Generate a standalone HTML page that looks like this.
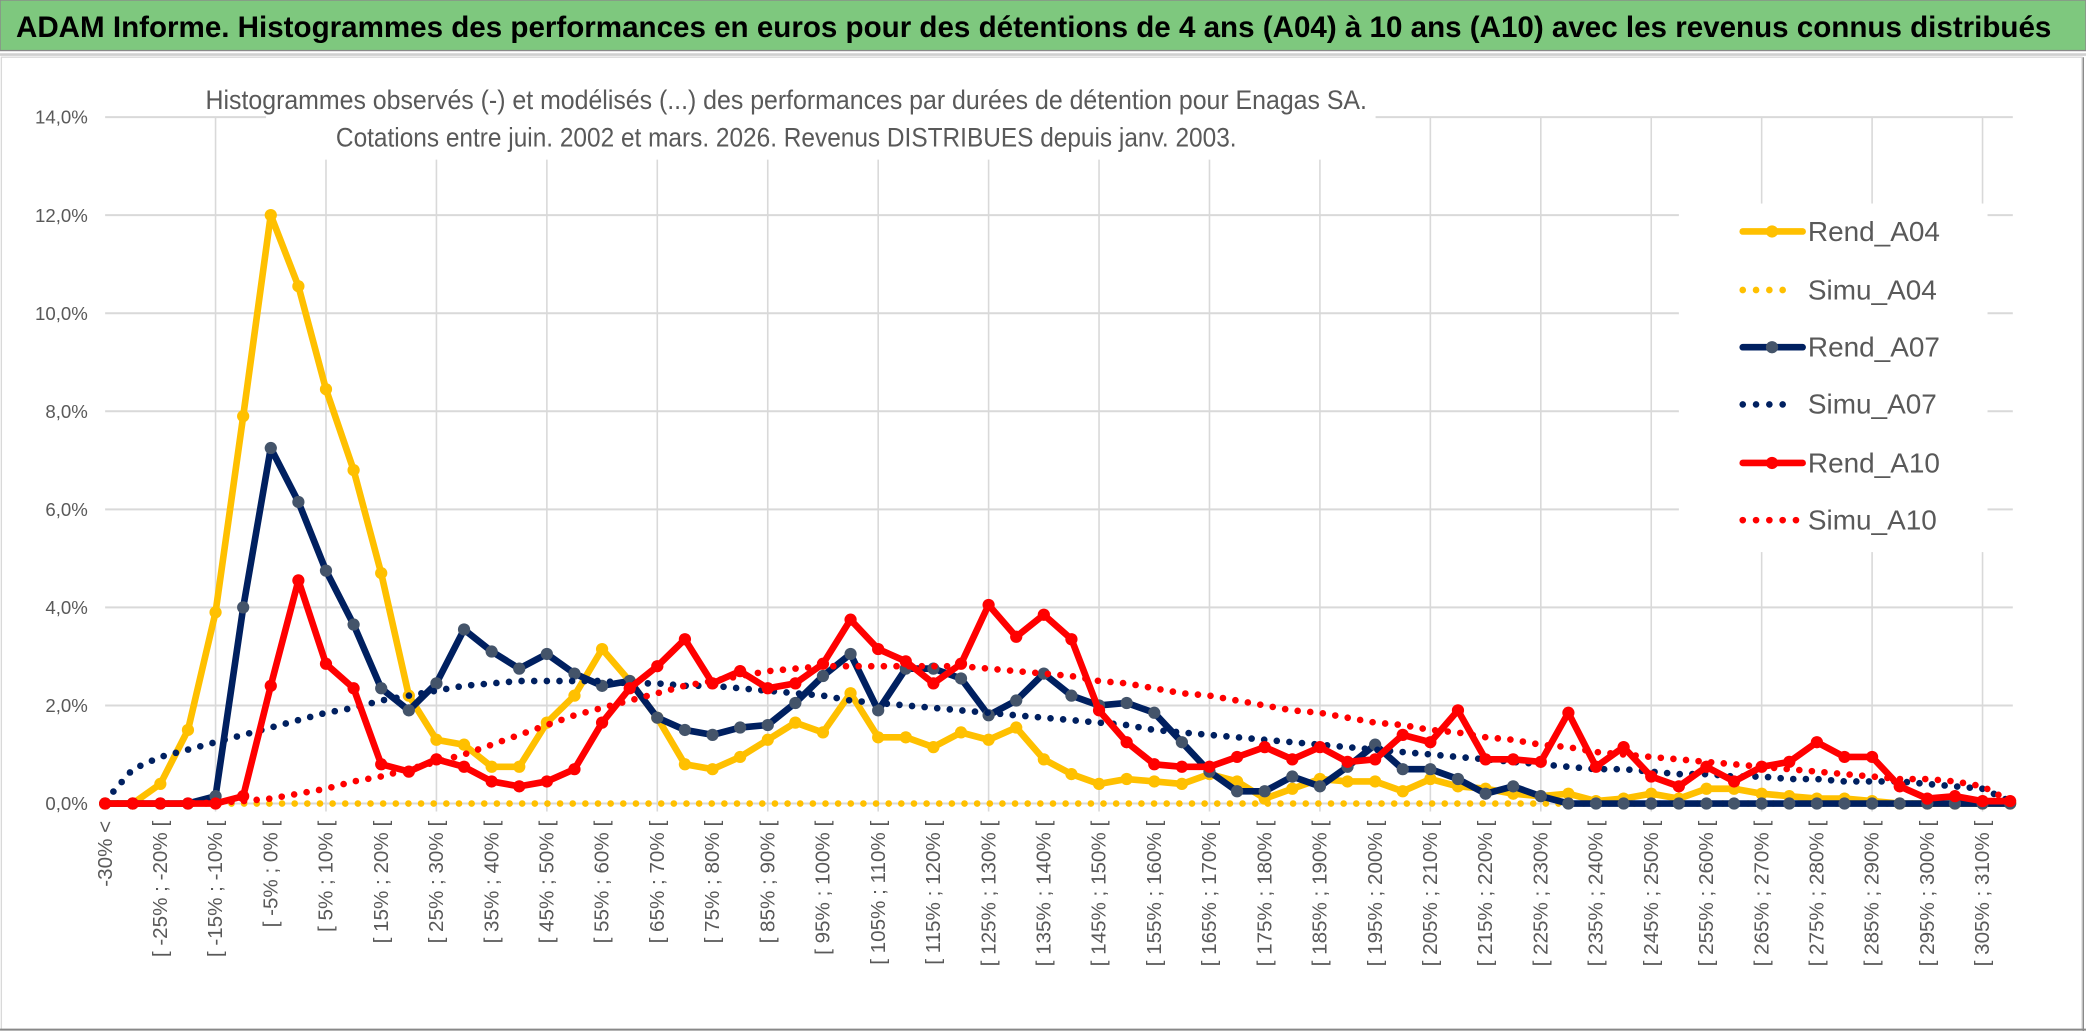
<!DOCTYPE html>
<html><head><meta charset="utf-8"><style>
html,body{margin:0;padding:0;background:#fff;}
svg{display:block;}
text{font-family:"Liberation Sans Narrow","Liberation Sans",sans-serif;}
</style></head><body>
<svg id="chart" width="2086" height="1031" viewBox="0 0 1568 775" xmlns="http://www.w3.org/2000/svg">
<rect x="0" y="0" width="1568" height="775" fill="#fff"/>
<rect x="0" y="0" width="1568" height="38" fill="#7ec87e" stroke="#8a8a8a" stroke-width="1"/>
<text x="12" y="28" font-size="22" font-weight="bold" fill="#000" textLength="1530" lengthAdjust="spacingAndGlyphs">ADAM Informe. Histogrammes des performances en euros pour des détentions de 4 ans (A04) à 10 ans (A10) avec les revenus connus distribués</text>
<line x1="0" y1="41" x2="1568" y2="41" stroke="#d0d0d0" stroke-width="2"/>
<rect x="1" y="43" width="1564" height="731" fill="none" stroke="#d9d9d9" stroke-width="1"/>
<line x1="0" y1="774" x2="1568" y2="774" stroke="#888" stroke-width="1.5"/>
<line x1="1566" y1="43" x2="1566" y2="775" stroke="#888" stroke-width="1"/>
<g id="grid"></g>
<rect x="200" y="50" width="834" height="70" fill="#fff"/>
<text x="591" y="82" font-size="20" fill="#595959" text-anchor="middle" textLength="873" lengthAdjust="spacingAndGlyphs">Histogrammes observés (-) et modélisés (...) des performances par durées de détention pour Enagas SA.</text>
<text x="591" y="110" font-size="20" fill="#595959" text-anchor="middle" textLength="677" lengthAdjust="spacingAndGlyphs">Cotations entre juin. 2002 et mars. 2026. Revenus DISTRIBUES depuis janv. 2003.</text>
<g id="yaxis"></g>
<g id="xaxis"></g>
<g id="series"></g>
<g id="legend"></g>
</svg>
<script>
const categories = (function(){ const c=["-30% <"]; for(let k=-30;k<310;k+=5){ c.push("[ "+k+"% ; "+(k+5)+"% ["); } c.push("> 310%"); return c; })();
const yTicks = [0,2,4,6,8,10,12,14];
const yTickLabels = ["0,0%","2,0%","4,0%","6,0%","8,0%","10,0%","12,0%","14,0%"];
const rendA04 = [0,0,0.4,1.5,3.9,7.9,12.0,10.55,8.45,6.8,4.7,2.2,1.3,1.2,0.75,0.75,1.65,2.2,3.15,2.5,1.75,0.8,0.7,0.95,1.3,1.65,1.45,2.25,1.35,1.35,1.15,1.45,1.3,1.55,0.9,0.6,0.4,0.5,0.45,0.4,0.6,0.45,0.1,0.3,0.5,0.45,0.45,0.25,0.5,0.35,0.3,0.2,0.15,0.2,0.05,0.1,0.2,0.1,0.3,0.3,0.2,0.15,0.1,0.1,0.05,0,0,0,0,0];
const simuA04 = [0,0,0,0,0,0,0,0,0,0,0,0,0,0,0,0,0,0,0,0,0,0,0,0,0,0,0,0,0,0,0,0,0,0,0,0,0,0,0,0,0,0,0,0,0,0,0,0,0,0,0,0,0,0,0,0,0,0,0,0,0,0,0,0,0,0,0,0,0,0];
const rendA07 = [0,0,0,0,0.15,4.0,7.25,6.15,4.75,3.65,2.35,1.9,2.45,3.55,3.1,2.75,3.05,2.65,2.4,2.5,1.75,1.5,1.4,1.55,1.6,2.05,2.6,3.05,1.9,2.75,2.75,2.55,1.8,2.1,2.65,2.2,2.0,2.05,1.85,1.25,0.65,0.25,0.25,0.55,0.35,0.75,1.2,0.7,0.7,0.5,0.2,0.35,0.15,0,0,0,0,0,0,0,0,0,0,0,0,0,0,0,0,0];
const simuA07 = [0.05,0.7,0.95,1.1,1.25,1.4,1.55,1.7,1.85,1.95,2.1,2.2,2.3,2.4,2.45,2.5,2.5,2.5,2.5,2.45,2.45,2.4,2.4,2.35,2.3,2.25,2.2,2.1,2.05,2.0,1.95,1.9,1.85,1.8,1.75,1.7,1.65,1.6,1.5,1.45,1.4,1.35,1.3,1.25,1.2,1.15,1.1,1.05,1.0,0.95,0.9,0.85,0.8,0.75,0.7,0.7,0.65,0.6,0.6,0.55,0.55,0.5,0.5,0.45,0.45,0.45,0.4,0.35,0.3,0.05];
const rendA10 = [0,0,0,0,0,0.15,2.4,4.55,2.85,2.35,0.8,0.65,0.9,0.75,0.45,0.35,0.45,0.7,1.65,2.35,2.8,3.35,2.45,2.7,2.35,2.45,2.85,3.75,3.15,2.9,2.45,2.85,4.05,3.4,3.85,3.35,1.9,1.25,0.8,0.75,0.75,0.95,1.15,0.9,1.15,0.85,0.9,1.4,1.25,1.9,0.9,0.9,0.85,1.85,0.75,1.15,0.55,0.35,0.75,0.45,0.75,0.85,1.25,0.95,0.95,0.35,0.1,0.15,0.05,0.05];
const simuA10 = [0,0,0,0,0.02,0.05,0.1,0.2,0.3,0.45,0.55,0.7,0.85,1.0,1.2,1.4,1.6,1.8,1.95,2.1,2.25,2.4,2.5,2.6,2.7,2.75,2.8,2.8,2.8,2.8,2.8,2.8,2.75,2.7,2.65,2.6,2.5,2.45,2.35,2.25,2.2,2.1,2.0,1.9,1.85,1.75,1.65,1.6,1.5,1.45,1.35,1.3,1.2,1.15,1.05,1.0,0.95,0.9,0.85,0.8,0.75,0.7,0.65,0.6,0.55,0.5,0.5,0.45,0.35,0.05];

const NS="http://www.w3.org/2000/svg";
const X0=79, X1=1511, Y0=604, Y14=88;
function xs(i){ return X0+(X1-X0)*i/(categories.length-1); }
function ys(v){ return Y0-(Y0-Y14)*v/14; }
function mk(tag,attrs,parent){ const e=document.createElementNS(NS,tag); for(const k in attrs) e.setAttribute(k,attrs[k]); parent.appendChild(e); return e; }

const grid=document.getElementById('grid');
yTicks.forEach(function(v){
  const l=mk('line',{x1:X0,y1:ys(v),x2:1513,y2:ys(v),stroke:'#d9d9d9','stroke-width':1.5},grid);
  
  
});
for(let i=4;i<categories.length;i+=4){
  const l=mk('line',{x1:xs(i),y1:88,x2:xs(i),y2:Y0+6,stroke:'#d9d9d9','stroke-width':1.2},grid);
  
  
}
const ya=document.getElementById('yaxis');
yTicks.forEach(function(v,k){
  const t=mk('text',{x:66,y:ys(v)+5,'font-size':14,fill:'#595959','text-anchor':'end'},ya);
  t.textContent=yTickLabels[k];
  
  
});
const xa=document.getElementById('xaxis');
for(let i=0;i<categories.length-1;i+=2){
  const x=xs(i)+5, y=617;
  const t=mk('text',{x:x,y:y,'font-size':15.5,fill:'#595959','text-anchor':'end',transform:'rotate(-90 '+x+' '+y+')'},xa);
  t.setAttribute('font-family','"Liberation Sans",sans-serif');
  t.textContent=categories[i];
  
  
}
const sg=document.getElementById('series');
function pts(arr){ return arr.map(function(v,i){return xs(i).toFixed(1)+','+ys(v).toFixed(1);}).join(' '); }
function solid(arr,color,mcolor,name){
  const g=mk('g',{},sg);
  
  
  mk('polyline',{points:pts(arr),fill:'none',stroke:color,'stroke-width':5,'stroke-linejoin':'round'},g);
  arr.forEach(function(v,i){
    const c=mk('circle',{cx:xs(i),cy:ys(v),r:4.6,fill:mcolor},g);
    
    
  });
}
function dotted(arr,color,name){
  const p=mk('polyline',{points:pts(arr),fill:'none',stroke:color,'stroke-width':5,'stroke-dasharray':'0 9.5','stroke-linecap':'round'},sg);
  
  
}
solid(rendA04,'#ffc000','#ffc000','rend-a04-line');
dotted(simuA04,'#ffc000','simu-a04-line');
solid(rendA07,'#002060','#44546a','rend-a07-line');
dotted(simuA07,'#002060','simu-a07-line');
solid(rendA10,'#ff0000','#ff0000','rend-a10-line');
dotted(simuA10,'#ff0000','simu-a10-line');

const lg=document.getElementById('legend');
mk('rect',{x:1262,y:153,width:232,height:262,fill:'#fff'},lg);
const leg=[['Rend_A04','#ffc000','#ffc000',0],['Simu_A04','#ffc000',null,1],['Rend_A07','#002060','#44546a',0],['Simu_A07','#002060',null,1],['Rend_A10','#ff0000','#ff0000',0],['Simu_A10','#ff0000',null,1]];
const legY=[174,218,261,304,348,391];
leg.forEach(function(d,k){
  const g=mk('g',{},lg);
  
  
  const y=legY[k];
  if(d[3]===0){
    mk('line',{x1:1310,y1:y,x2:1355,y2:y,stroke:d[1],'stroke-width':5,'stroke-linecap':'round'},g);
    mk('circle',{cx:1332,cy:y,r:4.6,fill:d[2]},g);
  } else {
    mk('line',{x1:1310,y1:y,x2:(k===5?1356:1344),y2:y,stroke:d[1],'stroke-width':5,'stroke-dasharray':'0 10','stroke-linecap':'round'},g);
  }
  const t=mk('text',{x:1359,y:y+7,'font-size':21,fill:'#595959'},g);
  t.textContent=d[0];
});
</script>
</body></html>
